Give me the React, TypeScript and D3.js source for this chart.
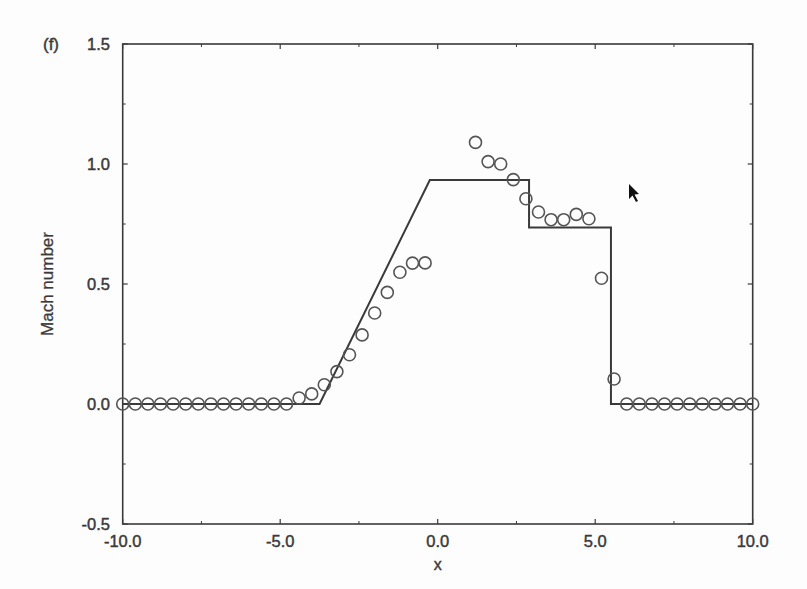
import React from "react";
import * as d3 from "d3";

const xTicks = [-10, -5, 0, 5, 10];
const xMinor = [-7.5, -2.5, 2.5, 7.5];
const yTicks = [-0.5, 0, 0.5, 1.0, 1.5];
const yMinor = [-0.25, 0.25, 0.75, 1.25];

// exact solution (solid line)
const exactX = [-10, -3.75, -0.25, 2.9, 2.9, 5.5, 5.5, 10];
const exactY = [0, 0, 0.933, 0.933, 0.735, 0.735, 0, 0];

// numerical solution (open circles)
const numX = [
  -10, -9.6, -9.2, -8.8, -8.4, -8.0, -7.6, -7.2, -6.8, -6.4, -6.0, -5.6, -5.2, -4.8,
  -4.4, -4.0, -3.6, -3.2, -2.8, -2.4, -2.0, -1.6, -1.2, -0.8, -0.4,
  1.2, 1.6, 2.0, 2.4, 2.8, 3.2, 3.6, 4.0, 4.4, 4.8, 5.2, 5.6,
  6.0, 6.4, 6.8, 7.2, 7.6, 8.0, 8.4, 8.8, 9.2, 9.6, 10,
];
const numY = [
  0, 0, 0, 0, 0, 0, 0, 0, 0, 0, 0, 0, 0, 0,
  0.025, 0.042, 0.08, 0.135, 0.205, 0.288, 0.379, 0.465, 0.549, 0.587, 0.588,
  1.09, 1.01, 1.0, 0.935, 0.855, 0.8, 0.768, 0.768, 0.79, 0.772, 0.524, 0.104,
  0, 0, 0, 0, 0, 0, 0, 0, 0, 0, 0,
];

const W = 807;
const H = 589;
const L = 122.7, R = 752.7, T = 44, B = 524;

export default function App() {
  const x = d3.scaleLinear().domain([-10, 10]).range([L, R]);
  const y = d3.scaleLinear().domain([-0.5, 1.5]).range([B, T]);
  const line = d3
    .line<number>()
    .x((_, i) => x(exactX[i]))
    .y((d) => y(d));
  const ink = "#3a3a3a";
  const font = "Liberation Sans, Arial, Helvetica, sans-serif";
  const major = 5;
  const minor = 3;
  const txt = { fill: ink, stroke: ink, strokeWidth: 0.45 };
  return (
    <svg
      width={W}
      height={H}
      style={{ position: "absolute", left: 0, top: 0, background: "#fff" }}
      fontFamily={font}
    >
      <rect x={0} y={0} width={W} height={H} fill="#fdfdfd" />
      {/* ticks */}
      {xTicks.map((t) => (
        <g key={"xt" + t}>
          <line x1={x(t)} x2={x(t)} y1={B} y2={B - major} stroke={ink} strokeWidth={1.2} />
          <line x1={x(t)} x2={x(t)} y1={T} y2={T + major} stroke={ink} strokeWidth={1.2} />
          <text x={x(t)} y={547} textAnchor="middle" fontSize={16.5} {...txt}>
            {t.toFixed(1)}
          </text>
        </g>
      ))}
      {xMinor.map((t) => (
        <g key={"xm" + t}>
          <line x1={x(t)} x2={x(t)} y1={B} y2={B - minor} stroke={ink} strokeWidth={1} />
          <line x1={x(t)} x2={x(t)} y1={T} y2={T + minor} stroke={ink} strokeWidth={1} />
        </g>
      ))}
      {yTicks.map((t) => (
        <g key={"yt" + t}>
          <line x1={L} x2={L + major} y1={y(t)} y2={y(t)} stroke={ink} strokeWidth={1.2} />
          <line x1={R} x2={R - major} y1={y(t)} y2={y(t)} stroke={ink} strokeWidth={1.2} />
          <text x={110} y={y(t)} dy="0.36em" textAnchor="end" fontSize={16.5} {...txt}>
            {t.toFixed(1)}
          </text>
        </g>
      ))}
      {yMinor.map((t) => (
        <g key={"ym" + t}>
          <line x1={L} x2={L + minor} y1={y(t)} y2={y(t)} stroke={ink} strokeWidth={1} />
          <line x1={R} x2={R - minor} y1={y(t)} y2={y(t)} stroke={ink} strokeWidth={1} />
        </g>
      ))}
      {/* frame */}
      <rect x={L} y={T} width={R - L} height={B - T} fill="none" stroke={ink} strokeWidth={1.6} />
      {/* exact solution */}
      <path d={line(exactY) || ""} fill="none" stroke={ink} strokeWidth={2} />
      {/* numerical points */}
      {numY.map((v, i) => (
        <circle
          key={"p" + i}
          cx={x(numX[i])}
          cy={y(v)}
          r={6}
          fill="none"
          stroke="#555"
          strokeWidth={1.6}
        />
      ))}
      {/* labels */}
      <text x={51} y={44} dy="0.36em" textAnchor="middle" fontSize={17} {...txt}>
        (f)
      </text>
      <text
        transform={`translate(53,${(T + B) / 2}) rotate(-90)`}
        textAnchor="middle"
        fontSize={17}
        {...txt}
        strokeWidth={0.3}
      >
        Mach number
      </text>
      <text x={x(0)} y={570} textAnchor="middle" fontSize={16} {...txt}>
        x
      </text>
      {/* mouse pointer artefact */}
      <path
        d="M629,184 L629,199 L632.5,195.5 L636,202 L638,201 L634.5,194.5 L639,194 Z"
        fill="#111"
      />
    </svg>
  );
}
